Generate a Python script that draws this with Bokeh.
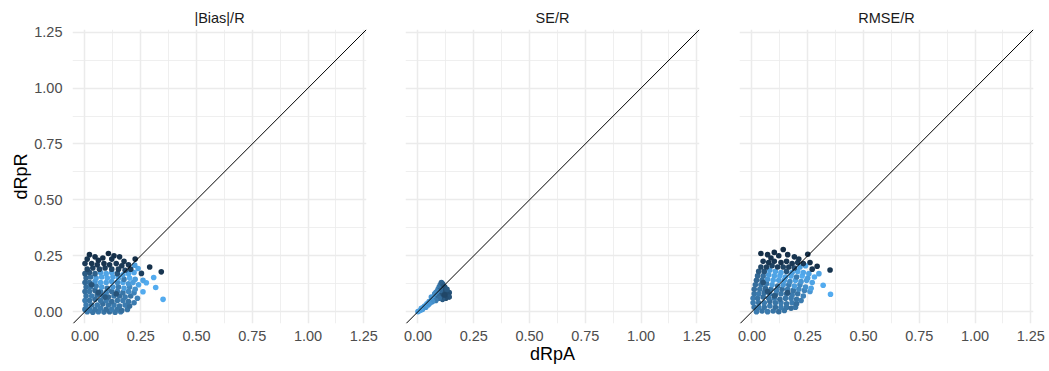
from bokeh.plotting import figure
from bokeh.layouts import row
from bokeh.models import ColumnDataSource, LinearColorMapper, FixedTicker, Slope, NumeralTickFormatter
from bokeh.transform import transform
from bokeh.embed import file_html
from bokeh.resources import INLINE

panel_titles = ["|Bias|/R", "SE/R", "RMSE/R"]
x_title = "dRpA"
y_title = "dRpR"
major_ticks = [0.0, 0.25, 0.5, 0.75, 1.0, 1.25]
minor_ticks = [0.125, 0.375, 0.625, 0.875, 1.125]

# ---- panel 1: |Bias|/R ----
x1 = [0.01, 0.035, 0.06, 0.085, 0.11, 0.135, 0.16,
      0.0, 0.02, 0.045, 0.07, 0.095, 0.12, 0.145, 0.165, 0.19,
      0.005, 0.03, 0.055, 0.08, 0.105, 0.13, 0.155, 0.18, 0.2,
      0.0, 0.02, 0.045, 0.07, 0.095, 0.12, 0.145, 0.17, 0.195, 0.35, 0.22,
      0.005, 0.03, 0.055, 0.08, 0.105, 0.13, 0.155, 0.18, 0.205, 0.235,
      0.0, 0.02, 0.045, 0.07, 0.095, 0.12, 0.145, 0.17, 0.195, 0.22, 0.26,
      0.005, 0.025, 0.05, 0.075, 0.1, 0.125, 0.15, 0.175, 0.2, 0.225, 0.317,
      0.0, 0.02, 0.045, 0.07, 0.095, 0.12, 0.145, 0.17, 0.195, 0.215, 0.275, 0.24,
      0.005, 0.025, 0.05, 0.075, 0.1, 0.125, 0.15, 0.175, 0.2, 0.225, 0.308, 0.26,
      0.0, 0.02, 0.045, 0.07, 0.095, 0.12, 0.145, 0.17, 0.195, 0.22,
      0.01, 0.035, 0.065, 0.09, 0.12, 0.15, 0.18, 0.205,
      0.0, 0.03, 0.055, 0.085, 0.11, 0.14, 0.165, 0.195,
      0.02, 0.045, 0.08, 0.105, 0.13, 0.155, 0.01, 0.06, 0.12, 0.175, 0.225,
      0.06, 0.09, 0.14, 0.03,
      0.29, 0.342, 0.253, 0.238, 0.223]
y1 = [0.0, -0.003, 0.0, -0.002, 0.0, -0.003, 0.0,
      0.01, 0.01, 0.01, 0.015, 0.01, 0.01, 0.01, 0.005, 0.01,
      0.03, 0.03, 0.03, 0.035, 0.03, 0.03, 0.025, 0.03, 0.025,
      0.05, 0.05, 0.055, 0.05, 0.05, 0.045, 0.05, 0.05, 0.045, 0.055, 0.04,
      0.07, 0.07, 0.075, 0.07, 0.065, 0.07, 0.07, 0.065, 0.07, 0.06,
      0.09, 0.09, 0.095, 0.09, 0.085, 0.09, 0.09, 0.085, 0.09, 0.085, 0.089,
      0.11, 0.11, 0.115, 0.11, 0.105, 0.11, 0.11, 0.105, 0.11, 0.1, 0.108,
      0.13, 0.13, 0.135, 0.13, 0.13, 0.135, 0.13, 0.13, 0.125, 0.13, 0.129, 0.12,
      0.15, 0.155, 0.15, 0.155, 0.15, 0.155, 0.15, 0.145, 0.15, 0.145, 0.153, 0.14,
      0.17, 0.175, 0.17, 0.175, 0.17, 0.175, 0.17, 0.165, 0.17, 0.175,
      0.19, 0.195, 0.19, 0.195, 0.19, 0.19, 0.185, 0.19,
      0.215, 0.215, 0.21, 0.215, 0.21, 0.215, 0.205, 0.21,
      0.255, 0.245, 0.24, 0.26, 0.25, 0.245, 0.235, 0.23, 0.235, 0.225, 0.235,
      0.085, 0.065, 0.08, 0.12,
      0.2, 0.178, 0.171, 0.193, 0.208]
c1 = [0.6, 0.55, 0.6, 0.55, 0.5, 0.55, 0.6,
      0.55, 0.6, 0.55, 0.6, 0.5, 0.6, 0.55, 0.5, 0.55,
      0.6, 0.55, 0.6, 0.5, 0.55, 0.6, 0.55, 0.6, 0.5,
      0.6, 0.55, 0.5, 0.55, 0.6, 0.5, 0.55, 0.6, 0.55, 0.95, 0.6,
      0.55, 0.6, 0.5, 0.6, 0.45, 0.55, 0.5, 0.6, 0.55, 0.65,
      0.5, 0.55, 0.45, 0.55, 0.65, 0.5, 0.6, 0.55, 0.7, 0.65, 0.95,
      0.5, 0.55, 0.6, 0.85, 0.55, 0.8, 0.6, 0.85, 0.7, 0.75, 0.95,
      0.45, 0.5, 0.8, 0.9, 0.88, 0.85, 0.7, 0.9, 0.8, 0.85, 0.95, 0.9,
      0.45, 0.5, 0.85, 0.9, 0.92, 0.88, 0.9, 0.6, 0.95, 0.85, 0.95, 0.9,
      0.35, 0.3, 0.4, 0.85, 0.9, 0.88, 0.3, 0.85, 0.9, 0.92,
      0.2, 0.15, 0.18, 0.14, 0.2, 0.16, 0.22, 0.15,
      0.1, 0.08, 0.1, 0.06, 0.09, 0.1, 0.12, 0.1,
      0.02, 0.05, 0.03, 0.0, 0.04, 0.06, 0.08, 0.05, 0.07, 0.08, 0.02,
      0.3, 0.35, 0.3, 0.3,
      0.05, 0.08, 0.15, 0.9, 0.85]

# ---- panel 2: SE/R ----
x2 = [0.0, 0.01, 0.015, 0.02, 0.025, 0.03, 0.035, 0.04, 0.045, 0.05,
      0.055, 0.06, 0.065, 0.07, 0.075, 0.08, 0.085, 0.09, 0.095, 0.1,
      0.105, 0.11, 0.115, 0.12, 0.125, 0.13, 0.14, 0.135, 0.14, 0.125,
      0.11, 0.1, 0.105, 0.115, 0.09, 0.12, 0.13, 0.1, 0.085, 0.075,
      0.06, 0.095, 0.08, 0.065, 0.05]
y2 = [0.0, 0.005, 0.015, 0.01, 0.02, 0.025, 0.02, 0.035, 0.03, 0.045,
      0.04, 0.05, 0.06, 0.055, 0.07, 0.085, 0.075, 0.1, 0.11, 0.12,
      0.13, 0.125, 0.115, 0.11, 0.1, 0.09, 0.085, 0.075, 0.065, 0.06,
      0.055, 0.065, 0.08, 0.09, 0.07, 0.075, 0.1, 0.095, 0.09, 0.08,
      0.065, 0.06, 0.05, 0.045, 0.035]
c2 = [0.85, 0.9, 0.88, 0.85, 0.9, 0.85, 0.8, 0.9, 0.85, 0.82,
      0.8, 0.82, 0.8, 0.75, 0.78, 0.72, 0.7, 0.68, 0.6, 0.55,
      0.45, 0.4, 0.35, 0.3, 0.28, 0.25, 0.3, 0.25, 0.3, 0.25,
      0.35, 0.3, 0.25, 0.28, 0.45, 0.2, 0.35, 0.45, 0.65, 0.7,
      0.8, 0.5, 0.6, 0.75, 0.8]

# ---- panel 3: RMSE/R ----
x3 = [0.02, 0.045, 0.07, 0.095, 0.12, 0.145,
      0.01, 0.03, 0.055, 0.08, 0.105, 0.13, 0.155, 0.175, 0.195,
      0.005, 0.03, 0.055, 0.08, 0.105, 0.13, 0.155, 0.18, 0.2,
      0.005, 0.025, 0.05, 0.075, 0.1, 0.125, 0.15, 0.175, 0.2, 0.22,
      0.01, 0.03, 0.055, 0.08, 0.105, 0.13, 0.155, 0.18, 0.205, 0.23, 0.352,
      0.01, 0.035, 0.06, 0.085, 0.11, 0.135, 0.16, 0.185, 0.21, 0.235, 0.26,
      0.015, 0.04, 0.065, 0.09, 0.115, 0.14, 0.165, 0.19, 0.215, 0.24, 0.265,
      0.02, 0.045, 0.07, 0.095, 0.12, 0.145, 0.17, 0.195, 0.22, 0.245, 0.27, 0.319,
      0.025, 0.05, 0.075, 0.1, 0.125, 0.15, 0.175, 0.2, 0.225, 0.25, 0.28, 0.3,
      0.03, 0.055, 0.08, 0.105, 0.13, 0.155, 0.18, 0.205, 0.23, 0.255,
      0.04, 0.065, 0.09, 0.115, 0.14, 0.165, 0.19, 0.215, 0.24, 0.292, 0.35, 0.27, 0.26,
      0.05, 0.075, 0.1, 0.13, 0.155, 0.18, 0.205, 0.23,
      0.04, 0.07, 0.1, 0.14, 0.12, 0.16, 0.19, 0.25, 0.085, 0.21,
      0.07, 0.1, 0.16, 0.05]
y3 = [0.0, 0.003, 0.0, 0.003, 0.0, 0.005,
      0.02, 0.02, 0.02, 0.025, 0.02, 0.02, 0.02, 0.015, 0.02,
      0.04, 0.04, 0.04, 0.045, 0.04, 0.04, 0.035, 0.04, 0.035,
      0.06, 0.06, 0.065, 0.06, 0.06, 0.055, 0.06, 0.06, 0.055, 0.05,
      0.08, 0.08, 0.085, 0.08, 0.075, 0.08, 0.08, 0.075, 0.08, 0.07, 0.078,
      0.1, 0.1, 0.105, 0.1, 0.095, 0.1, 0.1, 0.095, 0.1, 0.095, 0.09,
      0.12, 0.12, 0.125, 0.12, 0.115, 0.12, 0.12, 0.115, 0.12, 0.11, 0.105,
      0.14, 0.14, 0.145, 0.14, 0.14, 0.14, 0.135, 0.14, 0.135, 0.14, 0.13, 0.118,
      0.16, 0.16, 0.165, 0.16, 0.16, 0.155, 0.16, 0.155, 0.16, 0.15, 0.155, 0.17,
      0.18, 0.18, 0.185, 0.18, 0.175, 0.18, 0.175, 0.18, 0.175, 0.17,
      0.2, 0.2, 0.205, 0.2, 0.2, 0.2, 0.195, 0.2, 0.205, 0.203, 0.186, 0.19, 0.22,
      0.225, 0.22, 0.225, 0.22, 0.225, 0.215, 0.22, 0.215,
      0.26, 0.255, 0.265, 0.278, 0.25, 0.255, 0.245, 0.257, 0.24, 0.235,
      0.09, 0.07, 0.085, 0.13]
c3 = [0.6, 0.55, 0.6, 0.55, 0.5, 0.55,
      0.55, 0.6, 0.55, 0.6, 0.5, 0.6, 0.55, 0.5, 0.55,
      0.6, 0.55, 0.6, 0.5, 0.55, 0.6, 0.55, 0.6, 0.5,
      0.6, 0.55, 0.5, 0.55, 0.6, 0.5, 0.55, 0.6, 0.55, 0.6,
      0.55, 0.6, 0.5, 0.6, 0.45, 0.55, 0.5, 0.6, 0.55, 0.65, 0.95,
      0.5, 0.55, 0.45, 0.55, 0.65, 0.5, 0.6, 0.55, 0.7, 0.65, 0.8,
      0.5, 0.55, 0.6, 0.85, 0.55, 0.8, 0.6, 0.85, 0.7, 0.75, 0.9,
      0.45, 0.5, 0.8, 0.9, 0.88, 0.85, 0.7, 0.9, 0.8, 0.85, 0.9, 0.95,
      0.45, 0.5, 0.85, 0.9, 0.92, 0.88, 0.9, 0.6, 0.95, 0.85, 0.95, 0.9,
      0.35, 0.3, 0.85, 0.9, 0.88, 0.3, 0.85, 0.9, 0.92, 0.88,
      0.2, 0.15, 0.18, 0.14, 0.2, 0.16, 0.22, 0.85, 0.9, 0.05, 0.08, 0.1, 0.05,
      0.1, 0.08, 0.1, 0.06, 0.09, 0.1, 0.12, 0.1,
      0.02, 0.05, 0.03, 0.0, 0.05, 0.04, 0.06, 0.02, 0.06, 0.07,
      0.3, 0.35, 0.3, 0.3]

# ggplot2 default continuous colour gradient (#132B43 -> #56B1F7)
lo_rgb = (0x13, 0x2B, 0x43)
hi_rgb = (0x56, 0xB1, 0xF7)
palette = ["#%02x%02x%02x" % tuple(int(round(lo_rgb[k] + (hi_rgb[k] - lo_rgb[k]) * t / 255.0)) for k in range(3))
           for t in range(256)]
mapper = LinearColorMapper(palette=palette, low=0.0, high=1.0)

FONT = "Liberation Sans"
FRAME = 294
HEIGHT = 368


def make_panel(title, xs, ys, cs, left, right, show_y, xlabel):
    p = figure(width=left + FRAME + right, height=HEIGHT,
               x_range=(-0.056, 1.262), y_range=(-0.053, 1.262),
               output_backend="svg", toolbar_location=None,
               min_border_left=left, min_border_right=right,
               min_border_top=29, min_border_bottom=45,
               y_axis_location="left" if show_y else None,
               title=title)
    p.outline_line_color = None
    p.background_fill_color = "white"
    p.border_fill_color = "white"

    p.title.align = "center"
    p.title.text_font = FONT
    p.title.text_font_size = "14.5px"
    p.title.text_font_style = "normal"
    p.title.text_color = "#1A1A1A"
    p.title.standoff = 8
    p.title.offset = 0

    for g in (p.xgrid[0], p.ygrid[0]):
        g.ticker = FixedTicker(ticks=major_ticks, minor_ticks=minor_ticks)
        g.grid_line_color = "#EBEBEB"
        g.grid_line_width = 1.5
        g.minor_grid_line_color = "#EBEBEB"
        g.minor_grid_line_width = 0.8

    axes = list(p.xaxis) + (list(p.yaxis) if show_y else [])
    for ax in axes:
        ax.ticker = FixedTicker(ticks=major_ticks)
        ax.formatter = NumeralTickFormatter(format="0.00")
        ax.axis_line_color = None
        ax.major_tick_line_color = None
        ax.minor_tick_line_color = None
        ax.major_tick_out = 0
        ax.major_tick_in = 0
        ax.major_label_text_font = FONT
        ax.major_label_text_font_size = "14.5px"
        ax.major_label_text_color = "#4D4D4D"
        ax.axis_label_text_font = FONT
        ax.axis_label_text_font_size = "18px"
        ax.axis_label_text_font_style = "normal"
        ax.axis_label_text_color = "black"
    p.xaxis[0].major_label_standoff = 7
    p.xaxis[0].axis_label_standoff = 0
    if xlabel:
        p.xaxis[0].axis_label = xlabel
    if show_y:
        p.yaxis[0].major_label_standoff = 10
        p.yaxis[0].axis_label_standoff = 0
        p.yaxis[0].axis_label = y_title

    src = ColumnDataSource(dict(x=xs, y=ys, c=cs))
    p.scatter("x", "y", source=src, size=5.6,
              fill_color=transform("c", mapper), line_color=None)
    p.add_layout(Slope(gradient=1, y_intercept=0, line_color="black", line_width=1))
    return p


p1 = make_panel(panel_titles[0], x1, y1, c1, 72, 20, True, None)
p2 = make_panel(panel_titles[1], x2, y2, c2, 19, 20, False, x_title)
p3 = make_panel(panel_titles[2], x3, y3, c3, 20, 14, False, None)

layout = row(p1, p2, p3)
open("out.html", "w").write(file_html(layout, INLINE))
